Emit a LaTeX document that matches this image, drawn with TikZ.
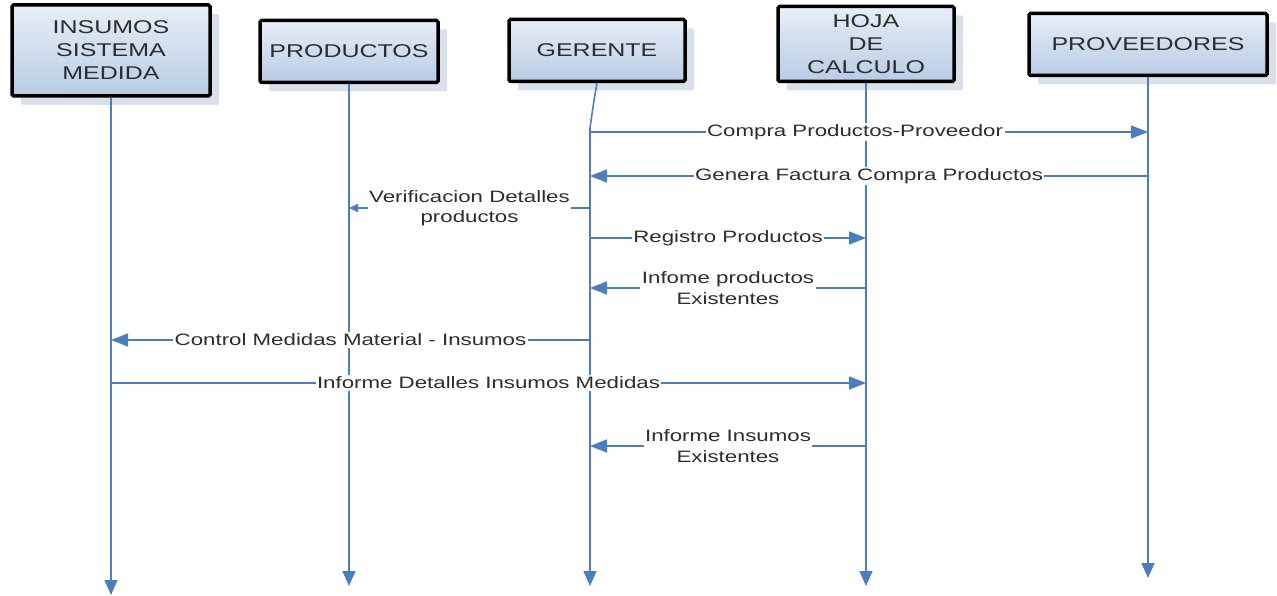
\documentclass[tikz,border=0pt]{standalone}
\usepackage{fontspec}
\setmainfont{Liberation Sans}[FakeStretch=1.35]
\usepackage{xcolor}
\usepackage{tikz}
\usetikzlibrary{arrows.meta,shadows}

\definecolor{lineblue}{RGB}{74,126,190}
\definecolor{boxtop}{RGB}{232,238,247}
\definecolor{boxbottom}{RGB}{184,204,228}
\definecolor{shadowgray}{RGB}{216,224,234}
\definecolor{textgray}{RGB}{45,45,45}

\begin{document}
\begin{tikzpicture}[x=1pt, y=-1pt]
            \tikzstyle{actor} = [draw=black, line width=3.5pt, rounded corners=1.5pt, top color=boxtop, bottom color=boxbottom, align=center, text=textgray, inner sep=0pt, font=\fontsize{18.5}{23}\selectfont, general shadow={fill=shadowgray, shadow xshift=9pt, shadow yshift=-9pt}]
            \tikzstyle{life} = [draw=lineblue, line width=1.6pt, -{Triangle[length=15pt, width=13pt]}]
            \tikzstyle{msg} = [draw=lineblue, line width=1.6pt, -{Triangle[length=17pt, width=13pt]}]
            \tikzstyle{msgsmall} = [draw=lineblue, line width=1.6pt, -{Triangle[length=9pt, width=8pt]}]
            \tikzstyle{lbl} = [fill=white, inner sep=1.5pt, align=center, text=textgray, font=\fontsize{16.5}{20.5}\selectfont]
            \useasboundingbox (0,0) rectangle (1277,596);

            \node [actor, minimum width=198pt, minimum height=91pt] (A0) at (111,50.5) {INSUMOS\\SISTEMA\\MEDIDA};
            \node [actor, minimum width=178pt, minimum height=62pt] (A1) at (349,51.5) {PRODUCTOS};
            \node [actor, minimum width=176pt, minimum height=62pt] (A2) at (597,50.5) {GERENTE};
            \node [actor, minimum width=176pt, minimum height=75pt] (A3) at (866,44) {HOJA\\DE\\CALCULO};
            \node [actor, minimum width=238pt, minimum height=62pt] (A4) at (1148,44.5) {PROVEEDORES};

            \coordinate (L0) at (111,595);
            \coordinate (L1) at (349,586);
            \coordinate (G1) at (590,128);
            \coordinate (L2) at (590,586);
            \coordinate (L3) at (866,586);
            \coordinate (L4) at (1148,578);

            \coordinate (m1) at (0,132);
            \coordinate (m2) at (0,176);
            \coordinate (m3) at (0,208);
            \coordinate (m4) at (0,238);
            \coordinate (m5) at (0,288);
            \coordinate (m6) at (0,340);
            \coordinate (m7) at (0,383);
            \coordinate (m8) at (0,446);

            \draw [life] (A0) to (L0);
            \draw [life] (A1) to (L1);
            \draw [life] (A2.south) .. controls (594,100) .. (G1) -- (L2);
            \draw [life] (A3) to (L3);
            \draw [life] (A4) to (L4);

            \draw [msg] (L2 |- m1) to node [lbl, pos=0.475] {Compra Productos-Proveedor} (L4 |- m1);
            \draw [msg] (L4 |- m2) to node [lbl] {Genera Factura Compra Productos} (L2 |- m2);
            \draw [msgsmall] (L2 |- m3) to node [lbl] {Verificacion Detalles\\productos} (L1 |- m3);
            \draw [msg] (L2 |- m4) to node [lbl] {Registro Productos} (L3 |- m4);
            \draw [msg] (L3 |- m5) to node [lbl] {Infome productos\\Existentes} (L2 |- m5);
            \draw [msg] (L2 |- m6) to node [lbl] {Control Medidas Material - Insumos} (L0 |- m6);
            \draw [msg] (L0 |- m7) to node [lbl] {Informe Detalles Insumos Medidas} (L3 |- m7);
            \draw [msg] (L3 |- m8) to node [lbl] {Informe Insumos\\Existentes} (L2 |- m8);
        \end{tikzpicture}
\end{document}
